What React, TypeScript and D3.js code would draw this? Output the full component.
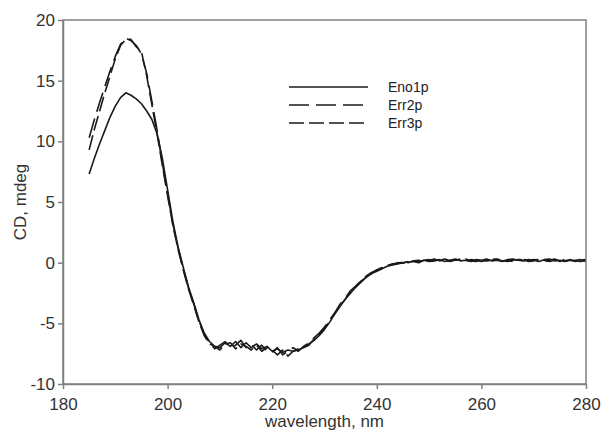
import React, { useEffect, useRef } from "react";
import * as d3 from "d3";

const width = 603;
const height = 431;
const margin = { top: 20, right: 17, bottom: 47, left: 63 };

// wavelength grid (nm)
const wavelengths = d3.range(185, 281, 1);

// CD signal (mdeg)
const eno1p = [
  7.3, 8.6, 9.8, 10.9, 12.0, 12.9, 13.6, 14.0, 13.8, 13.5, 13.1, 12.5, 11.8, 10.6, 8.6,
  6.0, 3.4, 1.3, -0.4, -2.0, -3.3, -4.7, -5.8, -6.5, -6.9, -7.0, -6.6, -6.9, -6.5, -7.0,
  -6.6, -7.0, -6.7, -7.1, -6.9, -7.3, -7.1, -7.4, -7.2, -7.3, -7.2, -7.0, -6.7, -6.4, -6.0,
  -5.5, -4.9, -4.2, -3.6, -3.0, -2.5, -2.0, -1.6, -1.2, -0.9, -0.7, -0.5, -0.3, -0.2, -0.1,
  0.0, 0.05, 0.1, 0.0, 0.2, 0.1, 0.15, 0.25, 0.1, 0.2, 0.3, 0.15, 0.2, 0.1, 0.25,
  0.2, 0.3, 0.15, 0.2, 0.1, 0.25, 0.3, 0.2, 0.15, 0.25, 0.2, 0.1, 0.25, 0.3, 0.15,
  0.2, 0.1, 0.2, 0.15, 0.1, 0.2,
];

const err2p = [
  10.3, 11.8, 13.2, 14.5, 15.8, 17.0, 18.0, 18.5, 18.3, 17.9, 17.2, 15.6, 13.3, 10.9, 8.2,
  5.7, 3.2, 1.2, -0.5, -2.1, -3.4, -4.8, -5.9, -6.6, -7.1, -6.8, -6.5, -7.0, -6.8, -6.4,
  -7.0, -6.7, -7.2, -6.8, -7.3, -7.4, -7.0, -7.6, -7.3, -7.0, -7.3, -6.9, -6.6, -6.2, -5.8,
  -5.3, -4.7, -4.1, -3.4, -2.9, -2.3, -1.9, -1.5, -1.1, -0.8, -0.6, -0.4, -0.2, -0.15, 0.0,
  -0.05, 0.1, 0.15, 0.05, 0.2, 0.25, 0.1, 0.2, 0.3, 0.15, 0.2, 0.3, 0.1, 0.25, 0.2,
  0.1, 0.2, 0.3, 0.25, 0.15, 0.2, 0.1, 0.3, 0.2, 0.15, 0.25, 0.2, 0.1, 0.2, 0.3,
  0.1, 0.25, 0.15, 0.2, 0.25, 0.1,
];

const err3p = [
  9.3, 11.0, 12.5, 14.0, 15.4, 16.8, 17.9, 18.4, 18.4, 17.8, 17.4, 15.4, 13.0, 10.6, 8.0,
  5.5, 3.1, 1.1, -0.6, -2.2, -3.5, -4.9, -6.0, -6.7, -6.9, -7.2, -6.7, -6.6, -7.1, -6.7,
  -6.9, -7.2, -6.8, -7.3, -7.0, -7.2, -7.6, -7.2, -7.7, -7.3, -7.1, -7.0, -6.8, -6.3, -5.9,
  -5.4, -4.8, -4.2, -3.5, -3.0, -2.4, -2.0, -1.5, -1.2, -0.9, -0.6, -0.45, -0.25, -0.1, -0.05,
  0.05, 0.0, 0.15, 0.2, 0.1, 0.2, 0.3, 0.15, 0.2, 0.1, 0.25, 0.2, 0.3, 0.15, 0.1,
  0.25, 0.15, 0.2, 0.3, 0.2, 0.1, 0.2, 0.25, 0.3, 0.1, 0.15, 0.3, 0.2, 0.1, 0.2,
  0.3, 0.15, 0.25, 0.1, 0.2, 0.25,
];

const seriesNames = ["Eno1p", "Err2p", "Err3p"];
const seriesValues = [eno1p, err2p, err3p];
const dashes = ["none", "20,7", "15,5"];

const xTicks = [180, 200, 220, 240, 260, 280];
const yTicks = [-10, -5, 0, 5, 10, 15, 20];

const axisColor = "#808080";
const textColor = "#333";
const font = "Liberation Sans, Arial, sans-serif";

const App = () => {
  const ref = useRef<SVGSVGElement>(null);

  useEffect(() => {
    if (!ref.current) return;
    const svg = d3.select(ref.current);
    svg.selectAll("*").remove();

    const x = d3.scaleLinear().domain([180, 280]).range([margin.left, width - margin.right]);
    const y = d3.scaleLinear().domain([-10, 20]).range([height - margin.bottom, margin.top]);

    const line = d3
      .line<number>()
      .x((d, i) => x(wavelengths[i]))
      .y((d) => y(d));

    // curves
    const g = svg.append("g");
    seriesValues.forEach((vals, k) => {
      g.append("path")
        .datum(vals)
        .attr("d", line)
        .attr("fill", "none")
        .attr("stroke", "#1a1a1a")
        .attr("stroke-width", 1.6)
        .attr("stroke-linejoin", "round")
        .attr("stroke-dasharray", dashes[k]);
    });

    // frame
    svg
      .append("rect")
      .attr("x", margin.left)
      .attr("y", margin.top)
      .attr("width", width - margin.left - margin.right)
      .attr("height", height - margin.top - margin.bottom)
      .attr("fill", "none")
      .attr("stroke", axisColor)
      .attr("stroke-width", 1.5);

    // axes
    const xAxis = svg
      .append("g")
      .attr("transform", `translate(0,${height - margin.bottom})`)
      .call(
        d3
          .axisBottom(x)
          .tickValues(xTicks)
          .tickFormat((d) => String(d))
          .tickSize(5)
          .tickPadding(9)
          .tickSizeOuter(0)
      );
    const yAxis = svg
      .append("g")
      .attr("transform", `translate(${margin.left},0)`)
      .call(
        d3
          .axisLeft(y)
          .tickValues(yTicks)
          .tickFormat((d) => String(d))
          .tickSize(5)
          .tickPadding(3)
          .tickSizeOuter(0)
      );

    [xAxis, yAxis].forEach((a) => {
      a.select(".domain").attr("stroke", axisColor).attr("stroke-width", 1.5);
      a.selectAll(".tick line").attr("stroke", axisColor).attr("stroke-width", 1.5);
      a.selectAll(".tick text")
        .attr("fill", textColor)
        .style("font-family", font)
        .style("font-size", "17px");
    });

    // axis titles
    svg
      .append("text")
      .attr("x", (margin.left + width - margin.right) / 2)
      .attr("y", height - 4)
      .attr("text-anchor", "middle")
      .attr("fill", textColor)
      .style("font-family", font)
      .style("font-size", "17px")
      .text("wavelength, nm");

    svg
      .append("text")
      .attr("transform", `translate(26,${(margin.top + height - margin.bottom) / 2}) rotate(-90)`)
      .attr("text-anchor", "middle")
      .attr("fill", textColor)
      .style("font-family", font)
      .style("font-size", "17px")
      .text("CD, mdeg");

    // legend
    const legend = svg.append("g").attr("transform", "translate(289,87)");
    seriesNames.forEach((name, k) => {
      const row = legend.append("g").attr("transform", `translate(0,${k * 18})`);
      row
        .append("line")
        .attr("x1", 0)
        .attr("x2", 79)
        .attr("stroke", "#1a1a1a")
        .attr("stroke-width", 1.5)
        .attr("stroke-dasharray", dashes[k]);
      row
        .append("text")
        .attr("x", 99)
        .attr("dy", "0.35em")
        .attr("fill", "#222")
        .style("font-family", font)
        .style("font-size", "14px")
        .text(name);
    });
  }, []);

  return (
    <svg
      ref={ref}
      width={width}
      height={height}
      style={{ position: "absolute", left: 0, top: 0, background: "#fff" }}
    />
  );
};

export default App;
